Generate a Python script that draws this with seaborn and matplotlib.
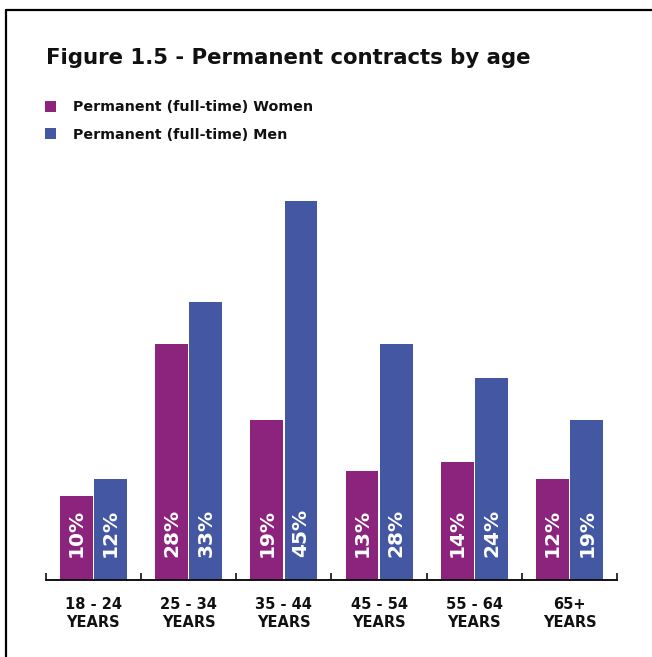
import matplotlib
matplotlib.use("Agg")
import matplotlib.pyplot as plt
from matplotlib.lines import Line2D
from matplotlib.ticker import FixedLocator
import seaborn as sns
import pandas as pd

# Data
age_groups = ["18 - 24\nYEARS", "25 - 34\nYEARS", "35 - 44\nYEARS",
              "45 - 54\nYEARS", "55 - 64\nYEARS", "65+\nYEARS"]
women = [10, 28, 19, 13, 14, 12]
men = [12, 33, 45, 28, 24, 19]
series_names = ["Permanent (full-time) Women", "Permanent (full-time) Men"]
colors = ["#8C237C", "#4357A3"]

df = pd.DataFrame({
    "age": age_groups * 2,
    "share": women + men,
    "series": [series_names[0]] * len(women) + [series_names[1]] * len(men),
})

sns.set_theme(style="white")
plt.rcParams["font.family"] = ["DejaVu Sans"]

fig = plt.figure(figsize=(6.52, 6.57), dpi=100)
W, H = 652, 657
ax_left, ax_right = 45.7, 617.3
base_y, top_y = 580, 159
ax = fig.add_axes([ax_left / W, 1 - base_y / H,
                   (ax_right - ax_left) / W, (base_y - top_y) / H])

sns.barplot(data=df, x="age", y="share", hue="series", palette=colors,
            width=0.72, gap=0.04, saturation=1, ax=ax, legend=True,
            edgecolor="none")

ax.set_ylim(0, 50)
ax.set_xlim(-0.5, len(age_groups) - 0.5)
ax.set_xlabel("")
ax.set_ylabel("")
ax.set_yticks([])
for side in ["left", "right", "top"]:
    ax.spines[side].set_visible(False)
ax.spines["bottom"].set_color("#111111")
ax.spines["bottom"].set_linewidth(1.4)

# group separators as small upward ticks on the baseline
ax.xaxis.set_minor_locator(FixedLocator([i - 0.5 for i in range(len(age_groups) + 1)]))
ax.tick_params(axis="x", which="minor", direction="in", length=5, width=1.2,
               color="#111111", bottom=True)
ax.tick_params(axis="x", which="major", length=0, pad=12)
for lbl in ax.get_xticklabels():
    lbl.set_fontweight("bold")
    lbl.set_fontsize(10.5)
    lbl.set_color("#111111")
    lbl.set_linespacing(1.25)

# value labels inside the bars
for container in ax.containers:
    for bar, val in zip(container, container.datavalues):
        ax.annotate(f"{val:.0f}%", (bar.get_x() + bar.get_width() / 2, 0),
                    xytext=(0, 23), textcoords="offset pixels",
                    rotation=90, ha="center", va="bottom",
                    color="white", fontsize=14.5, fontweight="bold")

sns.move_legend(ax, "upper left", bbox_to_anchor=(45 / W, 1 - 100 / H),
                bbox_transform=fig.transFigure, frameon=False, title=None,
                handlelength=0.8, handleheight=0.8, handletextpad=1.15,
                labelspacing=0.95, borderaxespad=0, borderpad=0,
                prop={"weight": "bold", "size": 10.3})
for t in ax.get_legend().get_texts():
    t.set_color("#111111")

fig.text(46 / W, 1 - 58 / H, "Figure 1.5 - Permanent contracts by age",
         ha="left", va="center", fontsize=15.3, fontweight="bold", color="#111111")

# outer frame (top and left edges)
fig.add_artist(Line2D([6 / W, 1.0], [1 - 10 / H, 1 - 10 / H], color="#000000",
                      linewidth=1.6, transform=fig.transFigure))
fig.add_artist(Line2D([6 / W, 6 / W], [0.0, 1 - 10 / H], color="#000000",
                      linewidth=1.6, transform=fig.transFigure))

fig.savefig("out.png", dpi=100, facecolor="white")
